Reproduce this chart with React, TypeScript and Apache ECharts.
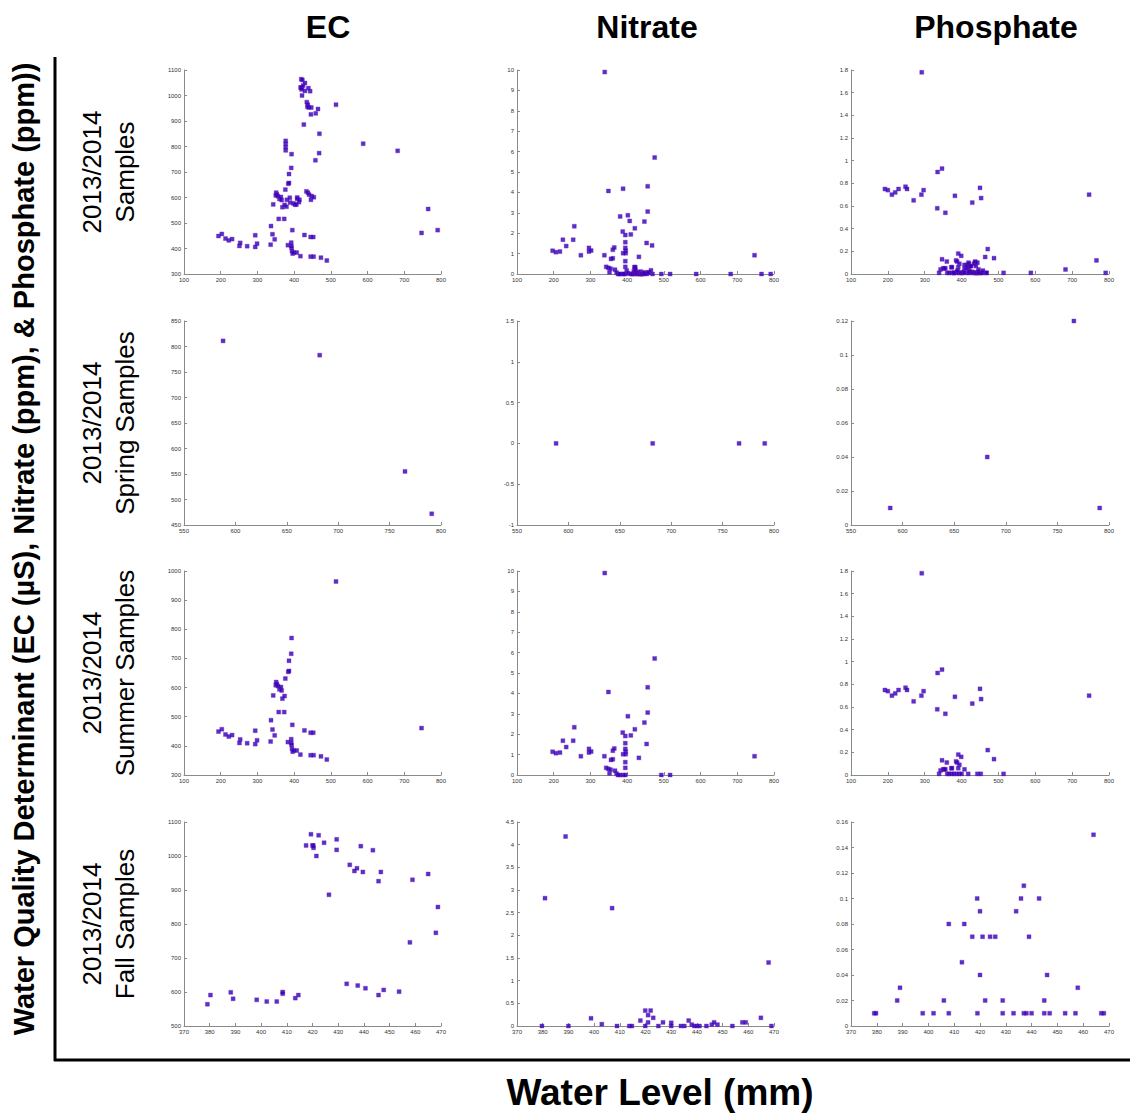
import React, { useEffect, useRef } from 'react';
import * as echarts from 'echarts';

const columnTitles = ['EC', 'Nitrate', 'Phosphate'];
const rowLabels = [
  ['2013/2014', 'Samples'],
  ['2013/2014', 'Spring Samples'],
  ['2013/2014', 'Summer Samples'],
  ['2013/2014', 'Fall Samples'],
];
const yTitle = 'Water Quality Determinant (EC (\u00B5S), Nitrate (ppm), & Phosphate (ppm))';
const xTitle = 'Water Level (mm)';

// Spring samples
const springEC = [[588, 811], [682, 783], [765, 555], [791, 472]];
const springNitrate = [[588, 0], [682, 0], [766, 0], [791, 0]];
const springPhosphate = [[588, 0.01], [682, 0.04], [766, 0.12], [791, 0.01]];

// Summer samples
const summerEC = [
  [194, 449], [203, 457], [213, 439], [222, 432], [231, 437], [251, 410], [253, 422], [272, 409],
  [294, 452], [294, 406], [299, 419], [336, 415], [337, 488], [341, 456], [347, 436], [343, 573],
  [351, 619], [350, 608], [353, 612], [356, 605], [358, 516], [360, 594], [364, 602], [366, 590],
  [368, 562], [374, 571], [373, 516], [376, 631], [384, 654], [386, 657], [386, 692], [392, 716],
  [393, 770], [383, 413], [392, 423], [392, 410], [393, 403], [394, 390], [396, 380], [399, 384],
  [395, 472], [407, 384], [417, 370], [428, 453], [445, 445], [452, 445], [445, 368], [453, 368],
  [473, 364], [489, 353], [514, 964], [747, 461],
];
const summerNitrate = [
  [197, 1.14], [206, 1.07], [217, 1.1], [225, 1.68], [234, 1.37], [253, 1.68], [256, 2.34], [274, 0.92],
  [296, 1.28], [296, 1.1], [302, 1.15], [339, 9.9], [338, 0.92], [349, 4.07], [343, 0.35], [349, 0.3],
  [352, 0.08], [355, 0.26], [356, 0.74], [361, 0.77], [361, 1.19], [365, 1.3], [367, 0.21], [371, 0.07],
  [375, 0], [380, 0], [388, 2.08], [389, 1.02], [389, 0], [395, 1.91], [395, 1.56], [395, 1.28],
  [396, 1.15], [396, 1.02], [395, 0.63], [395, 0.35], [395, 0], [402, 2.88], [410, 1.94], [421, 2.24],
  [432, 0.84], [447, 2.57], [453, 1.52], [456, 4.3], [456, 3.06], [475, 5.71], [493, 0], [517, 0],
  [747, 0.92],
];
const summerPhosphate = [
  [192, 0.75], [200, 0.74], [211, 0.7], [220, 0.72], [229, 0.75], [248, 0.77], [252, 0.75], [270, 0.65],
  [292, 1.78], [291, 0.7], [297, 0.74], [335, 0.9], [347, 0.93], [334, 0.58], [356, 0.54], [382, 0.69],
  [429, 0.63], [450, 0.76], [453, 0.67], [471, 0.22], [488, 0.14], [514, 0.01], [746, 0.7],
  [339, 0.01], [343, 0.04], [347, 0.13], [350, 0.05], [353, 0.05], [356, 0.05], [360, 0.11],
  [361, 0.01], [366, 0.01], [373, 0.01], [379, 0.01], [386, 0.01], [393, 0.01], [400, 0.01],
  [372, 0.06], [374, 0.06], [385, 0.12], [388, 0.11], [391, 0.18], [394, 0.09], [399, 0.16],
  [391, 0.06], [408, 0.05], [418, 0.01], [443, 0.01], [452, 0.01],
];

// Fall samples
const fallEC = [
  [379.1, 564], [380.3, 591], [388.2, 599], [389.1, 580], [398.3, 577], [402.2, 572], [406.1, 572],
  [408.4, 600], [408.4, 595], [413.3, 582], [414.5, 591], [417.5, 1031], [419.4, 1064], [420, 1031],
  [420.3, 1031], [420.4, 1024], [421.5, 1000], [422.4, 1061], [424.5, 1039], [426.4, 886], [429.4, 1049],
  [429.4, 1018], [433.3, 624], [434.5, 974], [436.3, 956], [437.3, 964], [437.6, 619], [438.8, 1029],
  [439.6, 953], [440.6, 611], [443.5, 1017], [445.7, 926], [445.7, 591], [446.6, 953], [447.7, 606],
  [453.7, 601], [457.9, 746], [458.9, 930], [465, 947], [468, 774], [468.8, 850],
];
const fallNitrate = [
  [379.7, 0], [380.9, 2.82], [388.9, 4.18], [390, 0], [398.8, 0.17], [403, 0.04], [407, 2.6], [408.9, 0],
  [413.7, 0], [414.7, 0], [418, 0.12], [419.9, 0.34], [419.9, 0], [421, 0.24], [421, 0.08], [422, 0.34],
  [423, 0.18], [425, 0], [426.8, 0.08], [430, 0.07], [430, 0], [433.8, 0], [435.1, 0], [436.8, 0.12],
  [438, 0.03], [439, 0], [440, 0], [441, 0], [443.7, 0], [445.8, 0.03], [446.7, 0.08], [448, 0.03],
  [453.8, 0], [457.7, 0.08], [459, 0.08], [464.9, 0.18], [467.9, 1.4], [469, 0],
];
const fallPhosphate = [
  [379, 0.01], [379.7, 0.01], [387.9, 0.02], [389, 0.03], [397.8, 0.01], [402, 0.01], [406, 0.02],
  [407.9, 0.08], [407.9, 0.01], [413, 0.05], [413.9, 0.08], [417, 0.07], [418.9, 0.1], [419, 0.01],
  [420, 0.09], [420, 0.04], [421, 0.07], [422, 0.02], [423.9, 0.07], [425.9, 0.07], [428.8, 0.02],
  [428.8, 0.01], [433, 0.01], [434, 0.09], [435.9, 0.1], [437, 0.11], [437, 0.01], [438, 0.01],
  [439, 0.07], [440, 0.01], [442.9, 0.1], [444.9, 0.02], [444.9, 0.01], [446, 0.04], [447, 0.01],
  [453, 0.01], [457, 0.01], [457.9, 0.03], [464, 0.15], [467, 0.01], [468, 0.01],
];

// Points in the combined EC panel not visible in the seasonal panels
const extraAllEC = [[377, 785], [377, 797], [377, 810], [377, 822]];

// Axis ranges [min, max, interval] per row (x) and per row/column (y)
const xRanges = [[100, 800, 100], [550, 800, 50], [100, 800, 100], [370, 470, 10]];
const yRanges = [
  [[300, 1100, 100], [0, 10, 1], [0, 1.8, 0.2]],
  [[450, 850, 50], [-1, 1.5, 0.5], [0, 0.12, 0.02]],
  [[300, 1000, 100], [0, 10, 1], [0, 1.8, 0.2]],
  [[500, 1100, 100], [0, 4.5, 0.5], [0, 0.16, 0.02]],
];

const colLeft = [184, 517, 851];
const colWidth = [257, 257, 258];
const rowTop = [70, 321, 571, 822];
const rowHeight = 204;
const FONT = '"Liberation Sans", Arial, sans-serif';

const fmt = (v: number) => String(parseFloat(Number(v).toFixed(4)));

export default function App() {
  const ref = useRef<HTMLDivElement>(null);
  useEffect(() => {
    if (!ref.current) return;
    const chart = echarts.init(ref.current, undefined, { renderer: 'svg' });

    const panelData = [
      [
        [...summerEC, ...extraAllEC, ...springEC, ...fallEC],
        [...summerNitrate, ...springNitrate, ...fallNitrate],
        [...summerPhosphate, ...springPhosphate, ...fallPhosphate],
      ],
      [springEC, springNitrate, springPhosphate],
      [summerEC, summerNitrate, summerPhosphate],
      [fallEC, fallNitrate, fallPhosphate],
    ];

    const grids: any[] = [];
    const xAxes: any[] = [];
    const yAxes: any[] = [];
    const series: any[] = [];
    const axisCommon = {
      type: 'value',
      axisLine: { show: true, onZero: false, lineStyle: { color: '#8a8a8a', width: 1 } },
      axisTick: { show: true, inside: true, length: 3, lineStyle: { color: '#8a8a8a' } },
      axisLabel: {
        fontSize: 6, color: '#333', margin: 3, fontFamily: FONT, interval: 0,
        showMinLabel: true, showMaxLabel: true, formatter: fmt,
      },
      splitLine: { show: false },
    };
    let idx = 0;
    for (let r = 0; r < 4; r++) {
      for (let c = 0; c < 3; c++) {
        grids.push({ left: colLeft[c], top: rowTop[r], width: colWidth[c], height: rowHeight });
        const xr = xRanges[r];
        const yr = yRanges[r][c];
        xAxes.push({ ...axisCommon, gridIndex: idx, min: xr[0], max: xr[1], interval: xr[2] });
        yAxes.push({ ...axisCommon, gridIndex: idx, min: yr[0], max: yr[1], interval: yr[2] });
        series.push({
          type: 'scatter',
          xAxisIndex: idx,
          yAxisIndex: idx,
          data: panelData[r][c],
          symbol: 'rect',
          symbolSize: 4,
          itemStyle: { color: '#2400c4', borderColor: 'rgba(140,30,160,0.55)', borderWidth: 0.8 },
          silent: true,
        });
        idx++;
      }
    }

    const graphic: any[] = [];
    const colCenters = [328, 647, 996];
    columnTitles.forEach((t, i) => {
      graphic.push({
        type: 'text', x: colCenters[i], y: 27,
        style: { text: t, font: `bold 32px ${FONT}`, fill: '#000', align: 'center', verticalAlign: 'middle' },
      });
    });
    rowLabels.forEach((lines, r) => {
      const cy = rowTop[r] + rowHeight / 2;
      [92, 125].forEach((cx, li) => {
        graphic.push({
          type: 'text', x: cx, y: cy, rotation: Math.PI / 2,
          style: { text: lines[li], font: `26px ${FONT}`, fill: '#000', align: 'center', verticalAlign: 'middle' },
        });
      });
    });
    graphic.push({
      type: 'text', x: 24, y: 549, rotation: Math.PI / 2,
      style: { text: yTitle, font: `bold 29px ${FONT}`, fill: '#000', align: 'center', verticalAlign: 'middle' },
    });
    graphic.push({
      type: 'text', x: 660, y: 1092,
      style: { text: xTitle, font: `bold 37px ${FONT}`, fill: '#000', align: 'center', verticalAlign: 'middle' },
    });
    graphic.push({ type: 'line', shape: { x1: 55, y1: 57, x2: 55, y2: 1061 }, style: { stroke: '#000', lineWidth: 3 } });
    graphic.push({ type: 'line', shape: { x1: 54, y1: 1060, x2: 1130, y2: 1060 }, style: { stroke: '#000', lineWidth: 3 } });

    chart.setOption({
      animation: false,
      backgroundColor: '#fff',
      grid: grids,
      xAxis: xAxes,
      yAxis: yAxes,
      series,
      graphic,
    });
    return () => chart.dispose();
  }, []);
  return <div ref={ref} style={{ position: 'fixed', left: 0, top: 0, width: 1130, height: 1114, background: '#fff' }} />;
}
